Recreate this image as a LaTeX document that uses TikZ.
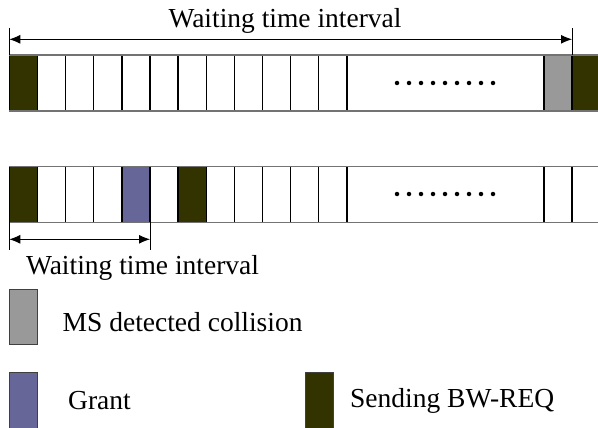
\documentclass[tikz,border=0pt]{standalone}
\usepackage{fontspec}
\setmainfont{Liberation Serif}
\usetikzlibrary{arrows.meta}
\definecolor{olive}{HTML}{333300}
\definecolor{collgray}{HTML}{999999}
\definecolor{grantc}{HTML}{666699}
\tikzset{
  cellbox/.style={draw=black, line width=1.3pt, fill=white, inner sep=0pt, outer sep=0pt, anchor=north west},
  hline/.style={draw=black!55, line width=1.4pt},
  dim/.style={line width=0.9pt, {Latex[length=11pt,width=9pt]}-{Latex[length=11pt,width=9pt]}},
  tick/.style={line width=0.9pt},
  lab/.style={font=\fontsize{27.5}{30}\selectfont, inner sep=0pt},
  legbox/.style={draw=black!75, line width=1pt, inner sep=0pt, outer sep=0pt, anchor=north west, minimum width=28pt},
  dotm/.style={circle, fill=black, inner sep=0pt, minimum size=4.5pt}
}
\begin{document}
\begin{tikzpicture}[x=1pt,y=-1pt]
\useasboundingbox (0,0) rectangle (598,428);
\clip (0,0) rectangle (598,428);
\fill[white] (0,0) rectangle (598,428);
% ---- row 1 ----
\foreach \i in {0,...,11}{
  \pgfmathsetmacro{\xx}{9.3+\i*28.14}
  \node[cellbox, minimum width=28.14pt, minimum height=56pt] (ra\i) at (\xx,55) {};
}
\node[cellbox, fill=olive, minimum width=28.14pt, minimum height=56pt] at (ra0.north west) {};
\node[cellbox, minimum width=197pt, minimum height=56pt] (ra12) at (347,55) {};
\node[cellbox, fill=collgray, minimum width=28pt, minimum height=56pt] (ra13) at (544,55) {};
\node[cellbox, fill=olive, minimum width=30pt, minimum height=56pt] (ra14) at (572,55) {};
\draw[hline] (ra0.north west) -- (ra14.north east);
\draw[hline] (ra0.south west) -- (ra14.south east);
% ---- row 2 ----
\foreach \i in {0,...,11}{
  \pgfmathsetmacro{\xx}{9.3+\i*28.14}
  \node[cellbox, minimum width=28.14pt, minimum height=55.5pt] (rb\i) at (\xx,166.7) {};
}
\node[cellbox, fill=olive, minimum width=28.14pt, minimum height=55.5pt] at (rb0.north west) {};
\node[cellbox, fill=grantc, minimum width=28.14pt, minimum height=55.5pt] at (rb4.north west) {};
\node[cellbox, fill=olive, minimum width=28.14pt, minimum height=55.5pt] at (rb6.north west) {};
\node[cellbox, minimum width=197pt, minimum height=55.5pt] (rb12) at (347,166.7) {};
\node[cellbox, minimum width=28pt, minimum height=55.5pt] (rb13) at (544,166.7) {};
\node[cellbox, minimum width=30pt, minimum height=55.5pt] (rb14) at (572,166.7) {};
\draw[hline] (rb0.north west) -- (rb14.north east);
\draw[hline] (rb0.south west) -- (rb14.south east);
% ---- dots ----
\foreach \k in {0,...,8}{
  \node[dotm] (da\k) at (397+\k*12,83) {};
  \node[dotm] (db\k) at (397+\k*12,194) {};
}
% ---- dimension arrows ----
\coordinate (t1a) at (9.3,28);
\coordinate (t1b) at (572,28);
\coordinate (a1l) at (9.3,39.3);
\coordinate (a1r) at (572,39.3);
\draw[tick] (t1a) -- (ra0.north west);
\draw[tick] (t1b) -- (ra14.north west);
\draw[dim] (a1l) -- (a1r);
\node[lab, anchor=base] (lt1) at (285,28) {Waiting time interval};
\coordinate (t2a) at (9.3,250);
\coordinate (t2b) at (150,250);
\coordinate (a2l) at (9.3,239.3);
\coordinate (a2r) at (150,239.3);
\draw[tick] (rb0.south west) -- (t2a);
\draw[tick] (rb5.south west) -- (t2b);
\draw[dim] (a2l) -- (a2r);
\node[lab, anchor=base] (lt2) at (142.5,274) {Waiting time interval};
% ---- legend ----
\node[legbox, fill=collgray, minimum height=55pt] (lg1) at (9.3,289.3) {};
\node[lab, anchor=base west] (lx1) at (62.5,331) {MS detected collision};
\node[legbox, fill=grantc, minimum height=58pt] (lg2) at (9.3,372.7) {};
\node[lab, anchor=base west] (lx2) at (68,409) {Grant};
\node[legbox, fill=olive, minimum height=58pt] (lg3) at (305,372.7) {};
\node[lab, anchor=base west] (lx3) at (350,407.5) {Sending BW-REQ};
\end{tikzpicture}
\end{document}
